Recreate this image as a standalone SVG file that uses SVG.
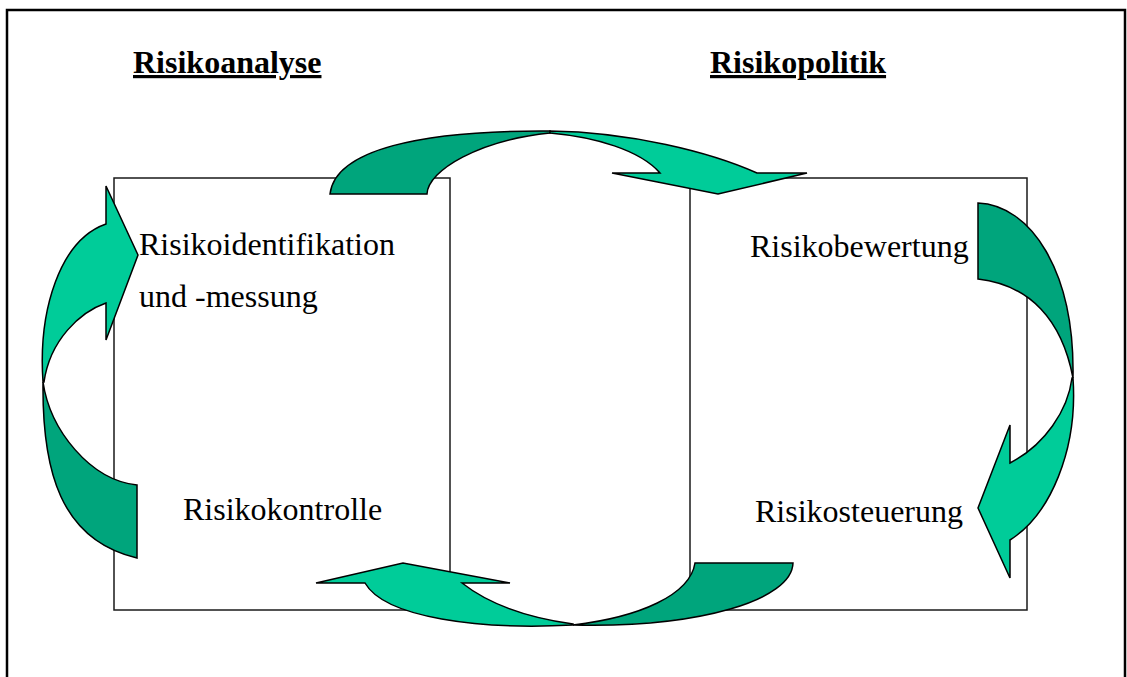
<svg xmlns="http://www.w3.org/2000/svg" width="1127" height="677" viewBox="0 0 1127 677">
  <style>
    .frame { fill: none; stroke: #000; stroke-width: 2.5; }
    .box { fill: #fff; stroke: #1a1a1a; stroke-width: 1.5; }
    .label { font-family: "Liberation Serif", "Times New Roman", serif; font-size: 32px; fill: #000; }
    .heading { font-family: "Liberation Serif", "Times New Roman", serif; font-size: 32px; font-weight: bold; fill: #000; text-decoration: underline; }
    .back { fill: #00A57C; stroke: #000; stroke-width: 1.5; stroke-linejoin: miter; }
    .front { fill: #00CC99; stroke: #000; stroke-width: 1.5; stroke-linejoin: miter; }
  </style>

  <rect width="1127" height="677" fill="#fff"/>
  <!-- outer frame (bottom edge runs past the page) -->
  <path class="frame" d="M7,690 L7,10 L1125,10 L1125,690"/>

  <!-- section headings -->
  <text class="heading" x="133" y="73">Risikoanalyse</text>
  <text class="heading" x="710" y="73">Risikopolitik</text>

  <!-- panels -->
  <g id="panel-analyse">
    <rect class="box" x="114" y="178" width="336" height="432"/>
  </g>
  <g id="panel-politik">
    <rect class="box" x="690" y="178" width="337" height="432"/>
  </g>

  <g id="node-identifikation">
    <text class="label" x="139" y="255">Risikoidentifikation</text>
    <text class="label" x="139" y="307">und -messung</text>
  </g>
  <g id="node-bewertung">
    <text class="label" x="750" y="257">Risikobewertung</text>
  </g>
  <g id="node-steuerung">
    <text class="label" x="755" y="522">Risikosteuerung</text>
  </g>
  <g id="node-kontrolle">
    <text class="label" x="183" y="520">Risikokontrolle</text>
  </g>

  <!-- curved block arrows linking the four steps -->
  <g id="connectors">
    <!-- top: identification -> evaluation -->
    <path class="back" d="M330,194 C335,150 420,130 550,131 L550,133 C480,140 428,170 427,194 Z"/>
    <path class="front" d="M550,131 C630,132 710,152 757,173 L807,173 L718,194 L612,173 L660,173 C640,150 595,137 550,133 Z"/>

    <!-- right: evaluation -> steering -->
    <path class="back" d="M978,203 C1030,205 1075,270 1073,378 C1062,320 1030,285 978,279 Z"/>
    <path class="front" d="M1073,378 C1078,450 1050,515 1010,540 L1010,578 L978,508 L1010,425 L1010,463 C1045,445 1068,410 1072,378 Z"/>

    <!-- bottom: steering -> control -->
    <path class="back" d="M793,563 C792,600 700,628 573,625 C640,617 690,595 695,563 Z"/>
    <path class="front" d="M573,625 C480,630 385,618 365,583 L316,583 L403,563 L510,583 L462,583 C490,605 530,618 573,624 Z"/>

    <!-- left: control -> identification -->
    <path class="back" d="M43,382 C42,470 60,540 137,558 L137,485 C90,480 50,430 43,382 Z"/>
    <path class="front" d="M43,382 C38,310 60,240 106,224 L106,186 L138,255 L106,340 L106,303 C80,312 50,340 44,382 Z"/>
  </g>
</svg>
